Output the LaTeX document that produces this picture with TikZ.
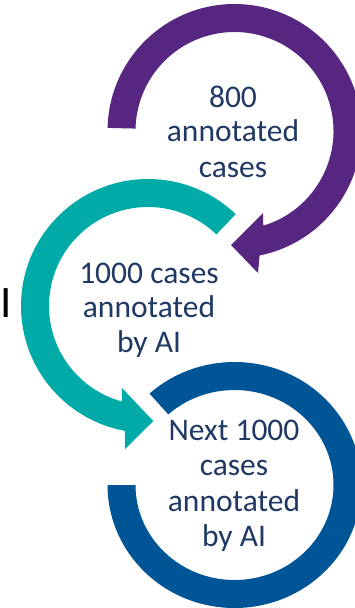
\documentclass[tikz,border=0pt]{standalone}
\usepackage{fontspec}
\setmainfont{Carlito}
\definecolor{purp}{RGB}{86,38,128}
\definecolor{teal2}{RGB}{0,171,167}
\definecolor{blue2}{RGB}{0,85,150}
\definecolor{navy}{RGB}{31,56,100}
\begin{document}
\begin{tikzpicture}[x=1pt,y=1pt,
  lbl/.style={font=\fontsize{31.5}{35}\selectfont, text=navy, inner sep=0pt, anchor=base},
  pfill/.style={fill=purp},
  tfill/.style={fill=teal2},
  bfill/.style={fill=blue2}]
\useasboundingbox (0,0) rectangle (354,-608);
\coordinate (pc) at (234.5,-131);
\coordinate (tc) at (148,-306);
\coordinate (bc) at (234.5,-485);
% purple arrow
\fill[pfill] ([shift={(178.6:127pt)}]pc) arc[start angle=178.6,end angle=-78.6,radius=127pt]
  -- (258,-273) -- (231,-245) -- (263,-213)
  -- ([shift={(-73.1:99pt)}]pc) arc[start angle=-73.1,end angle=178.6,radius=99pt] -- cycle;
% teal arrow
\fill[tfill] ([shift={(46.3:127pt)}]tc) arc[start angle=46.3,end angle=259.5,radius=127pt]
  -- (125,-449) -- (153.3,-421) -- (121.7,-387.7)
  -- ([shift={(254.9:99pt)}]tc) arc[start angle=254.9,end angle=46.3,radius=99pt] -- cycle;
% blue ring
\fill[bfill] ([shift={(132:127pt and 123pt)}]bc) arc[start angle=132,end angle=-180,x radius=127pt,y radius=123pt]
  -- ([shift={(-180:99pt and 95pt)}]bc) arc[start angle=-180,end angle=132,x radius=99pt,y radius=95pt] -- cycle;
% texts
\node[lbl] (p1) at (233,-107) {800};
\node[lbl] (p2) at (233,-141.5) {annotated};
\node[lbl] (p3) at (233,-177) {cases};
\node[lbl] (t1) at (149,-283) {1000 cases};
\node[lbl] (t2) at (149,-317.5) {annotated};
\node[lbl] (t3) at (149,-352) {by AI};
\node[lbl] (b1) at (234,-440) {Next 1000};
\node[lbl] (b2) at (234,-475) {cases};
\node[lbl] (b3) at (234,-511) {annotated};
\node[lbl] (b4) at (234,-546) {by AI};
\node[font=\fontsize{45}{50}\selectfont, inner sep=0pt, anchor=base, text=black] (cut) at (6,-317) {I};
\end{tikzpicture}
\end{document}
